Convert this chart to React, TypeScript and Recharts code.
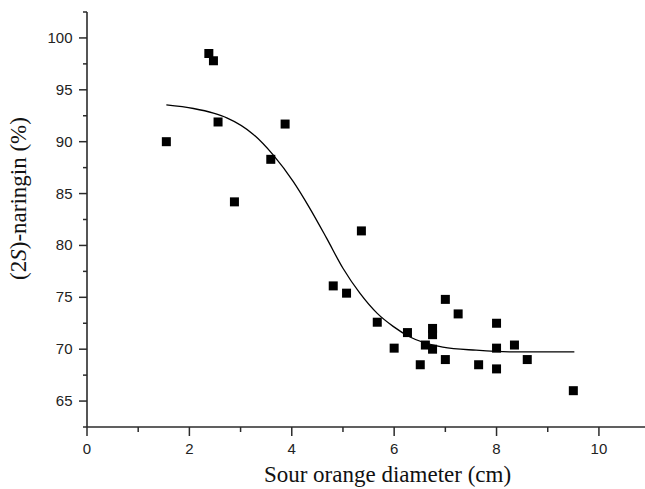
import { ComposedChart, Scatter, Line, XAxis, YAxis, Label } from "recharts";

// measured samples (sour orange diameter vs (2S)-naringin share)
const diameterCm = [
  1.55, 2.38, 2.47, 2.56, 2.88, 3.59, 3.87, 4.81, 5.07, 5.36, 5.67, 6.0, 6.26, 6.51,
  6.61, 6.75, 6.75, 6.75, 7.0, 7.0, 7.25, 7.65, 8.0, 8.0, 8.0, 8.35, 8.6, 9.5
];
const naringinPct = [
  90.0, 98.5, 97.8, 91.9, 84.2, 88.3, 91.7, 76.1, 75.4, 81.4, 72.6, 70.1, 71.6, 68.5,
  70.4, 72.0, 71.4, 70.0, 74.8, 69.0, 73.4, 68.5, 72.5, 70.1, 68.1, 70.4, 69.0, 66.0
];

// fitted curve
const fitDiameterCm = [
  1.55, 2.08, 2.47, 2.73, 3.25, 3.64, 4.03, 4.35, 4.68, 5.0, 5.33, 5.67, 5.98, 6.3,
  6.95, 7.6, 8.25, 9.52
];
const fitNaringinPct = [
  93.55, 93.2, 92.75, 92.3, 90.7, 88.7, 86.15, 83.6, 80.7, 77.8, 75.4, 73.45, 72.2, 71.2,
  70.2, 69.9, 69.75, 69.75
];

const xTicks = [0, 1, 2, 3, 4, 5, 6, 7, 8, 9, 10];
const yTicks = [62.5, 65, 67.5, 70, 72.5, 75, 77.5, 80, 82.5, 85, 87.5, 90, 92.5, 95, 97.5, 100, 102.5];

const points = diameterCm.map((d, i) => ({ x: d, y: naringinPct[i] }));
const fit = fitDiameterCm.map((d, i) => ({ x: d, y: fitNaringinPct[i] }));

const AXIS = "#2b2b2b";
const SANS = "'Liberation Sans', Arial, sans-serif";
const SERIF = "'Liberation Serif', 'Times New Roman', serif";

function YTick(props: any) {
  const { x, y, payload } = props;
  const major = payload.value % 5 === 0;
  return (
    <g>
      <line x1={x - (major ? 8 : 4)} x2={x} y1={y} y2={y} stroke={AXIS} strokeWidth={1.5} />
      {major && (
        <text x={x - 14.5} y={y} dy={5} textAnchor="end" fontSize={15} fontFamily={SANS} fill="#222">
          {payload.value}
        </text>
      )}
    </g>
  );
}

function XTick(props: any) {
  const { x, y, payload } = props;
  const major = payload.value % 2 === 0;
  return (
    <g>
      <line x1={x} x2={x} y1={y} y2={y + (major ? 9 : 5)} stroke={AXIS} strokeWidth={1.5} />
      {major && (
        <text x={x} y={y} dy={27} textAnchor="middle" fontSize={15} fontFamily={SANS} fill="#222">
          {payload.value}
        </text>
      )}
    </g>
  );
}

const square = (p: any) => <rect x={p.cx - 4.5} y={p.cy - 4.5} width={9} height={9} fill="#000" />;

export default function App() {
  return (
    <div style={{ position: "absolute", left: 0, top: 0, background: "#fff" }}>
      <ComposedChart width={645} height={489} margin={{ top: 12, right: 0, bottom: 0, left: 0 }}>
        <XAxis
          type="number"
          dataKey="x"
          domain={[0, 10.9]}
          ticks={xTicks}
          interval={0}
          height={62}
          tickSize={0}
          tickMargin={0}
          tickLine={false}
          tick={<XTick />}
          axisLine={{ stroke: AXIS, strokeWidth: 1.6 }}
          allowDataOverflow
        >
          <Label
            content={() => (
              <text x={387.5} y={482} textAnchor="middle" fontSize={23} fontFamily={SERIF} fill="#111">
                Sour orange diameter (cm)
              </text>
            )}
          />
        </XAxis>
        <YAxis
          type="number"
          dataKey="y"
          domain={[62.5, 102.5]}
          ticks={yTicks}
          interval={0}
          width={87}
          tickSize={0}
          tickMargin={0}
          tickLine={false}
          tick={<YTick />}
          axisLine={{ stroke: AXIS, strokeWidth: 1.6 }}
          allowDataOverflow
        >
          <Label
            content={() => (
              <text
                x={26}
                y={198.5}
                transform="rotate(-90 26 198.5)"
                textAnchor="middle"
                fontSize={23}
                fontFamily={SERIF}
                fill="#111"
              >
                (2<tspan fontStyle="italic">S</tspan>)-naringin (%)
              </text>
            )}
          />
        </YAxis>
        <Line
          data={fit}
          dataKey="y"
          type="monotone"
          stroke="#000"
          strokeWidth={1.3}
          dot={false}
          activeDot={false}
          isAnimationActive={false}
        />
        <Scatter data={points} dataKey="y" shape={square} isAnimationActive={false} />
      </ComposedChart>
    </div>
  );
}
